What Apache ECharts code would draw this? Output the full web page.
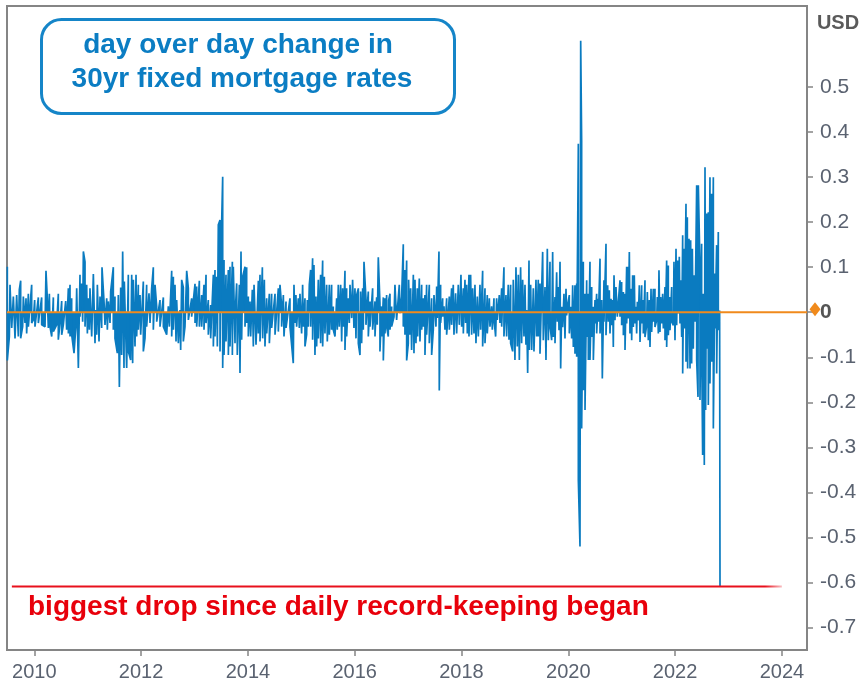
<!DOCTYPE html>
<html>
<head>
<meta charset="utf-8">
<script src="https://cdn.jsdelivr.net/npm/echarts@6/dist/echarts.min.js"></script>
<style>
html,body{margin:0;padding:0;background:#fff;}
#c{width:866px;height:689px;}
</style>
</head>
<body>
<div id="c"></div>
<script>
// Day-over-day change in 30yr fixed mortgage rate (USD / percentage points).
// Upward spikes: dates (decimal years) and values
const upYear = [
2009.495,2009.545,2009.608,2009.670,2009.720,2009.745,2009.795,2009.845,2009.889,2009.951,
2010.007,2010.076,2010.138,2010.219,2010.244,2010.282,2010.357,2010.450,2010.513,2010.588,
2010.638,2010.669,2010.700,2010.794,2010.856,2010.887,2010.919,2010.950,2010.981,2011.012,
2011.043,2011.106,2011.150,2011.181,2011.231,2011.268,2011.306,2011.356,2011.387,2011.430,
2011.480,2011.511,2011.574,2011.618,2011.655,2011.686,2011.717,2011.761,2011.824,2011.855,
2011.905,2011.948,2011.980,2012.042,2012.104,2012.148,2012.198,2012.229,2012.261,2012.292,
2012.354,2012.417,2012.510,2012.573,2012.604,2012.635,2012.666,2012.729,2012.760,2012.791,
2012.854,2012.885,2012.947,2013.010,2013.041,2013.091,2013.134,2013.178,2013.216,2013.259,
2013.303,2013.353,2013.384,2013.415,2013.446,2013.478,2013.509,2013.528,2013.553,2013.590,
2013.634,2013.665,2013.709,2013.727,2013.765,2013.790,2013.840,2013.871,2013.902,2013.946,
2013.977,2014.008,2014.040,2014.083,2014.115,2014.152,2014.196,2014.227,2014.271,2014.308,
2014.352,2014.402,2014.445,2014.508,2014.570,2014.601,2014.632,2014.664,2014.714,
2014.788,2014.863,2014.900,2014.944,2014.975,2015.025,2015.069,2015.113,2015.150,2015.175,
2015.212,2015.237,2015.275,2015.319,2015.362,2015.400,2015.431,2015.475,2015.525,2015.568,
2015.599,2015.662,2015.693,2015.737,2015.774,2015.818,2015.849,2015.880,2015.912,2015.961,
2016.005,2016.036,2016.068,2016.111,2016.149,2016.174,2016.211,2016.255,2016.286,2016.336,
2016.380,2016.411,2016.442,2016.473,2016.505,2016.536,2016.567,2016.598,2016.636,2016.661,
2016.692,2016.754,2016.785,2016.835,2016.879,2016.910,2016.941,2016.973,2017.010,2017.048,
2017.098,2017.129,2017.172,2017.210,2017.254,2017.285,2017.316,2017.347,2017.397,2017.441,
2017.485,2017.535,2017.578,2017.609,2017.647,2017.672,2017.722,2017.772,2017.815,2017.846,
2017.890,2017.940,2017.990,2018.034,2018.065,2018.096,2018.140,2018.171,2018.209,2018.252,
2018.296,2018.346,2018.396,2018.440,2018.483,2018.521,2018.564,2018.608,2018.658,2018.708,
2018.752,2018.795,2018.833,2018.876,2018.920,2018.970,2019.020,2019.064,2019.107,2019.145,
2019.189,2019.220,2019.264,2019.295,2019.345,2019.395,2019.438,
2019.470,2019.520,2019.564,2019.607,2019.657,2019.707,2019.751,2019.782,2019.813,2019.845,
2019.876,2019.919,2019.957,2019.982,2020.019,2020.044,2020.082,2020.125,2020.157,2020.188,
2020.232,2020.250,2020.281,2020.313,2020.344,2020.375,2020.406,2020.438,2020.469,2020.500,
2020.531,2020.562,2020.594,2020.625,2020.668,2020.706,2020.737,2020.768,2020.800,2020.831,
2020.856,2020.893,2020.937,2020.968,2020.999,2021.031,2021.062,2021.093,2021.124,2021.143,
2021.174,2021.205,2021.236,2021.268,2021.293,2021.330,2021.374,2021.405,2021.436,2021.480,
2021.517,2021.549,2021.592,2021.623,2021.667,2021.698,2021.730,2021.767,2021.811,2021.842,
2021.873,2021.904,2021.936,2021.979,2022.017,2022.048,2022.079,2022.104,2022.142,2022.167,
2022.204,2022.229,2022.260,2022.291,2022.323,2022.354,2022.373,2022.404,2022.435,2022.466,
2022.497,2022.529,2022.560,2022.591,2022.622,2022.653,2022.685,2022.716,2022.747,2022.778,
2022.809,2022.834
];
const upVal = [
0.101,0.061,0.035,0.038,0.050,0.070,0.035,0.031,0.041,0.061,
0.027,0.033,0.033,0.092,0.031,0.041,0.033,0.041,0.025,0.025,
0.053,0.061,0.031,0.053,0.083,0.064,0.135,0.112,0.061,0.031,
0.053,0.085,0.005,0.061,0.035,0.100,0.024,0.031,0.024,0.046,
0.100,0.035,0.038,0.055,0.135,0.068,0.072,0.083,0.083,0.072,
0.083,0.061,0.038,0.068,0.061,0.042,0.053,0.100,0.061,0.013,
0.027,0.033,0.013,0.092,0.079,0.061,0.027,0.005,0.072,0.055,
0.092,0.053,0.031,0.063,0.057,0.070,0.038,0.061,0.083,0.027,
0.016,0.083,0.094,0.079,0.194,0.205,0.201,0.301,0.116,0.083,
0.094,0.101,0.112,0.101,0.005,0.064,0.061,0.135,0.079,0.101,
0.100,0.035,0.024,0.050,0.061,0.061,0.070,0.083,0.100,0.072,
0.031,0.041,0.041,0.041,0.053,0.061,0.013,0.038,0.024,
0.031,0.061,0.038,0.031,0.041,0.061,0.031,0.027,0.061,0.094,
0.120,0.105,0.035,0.072,0.083,0.115,0.079,0.061,0.061,0.061,
0.013,0.031,0.061,0.061,0.053,0.092,0.053,0.031,0.061,0.072,
0.053,0.038,0.053,0.046,0.053,0.112,0.031,0.046,0.024,0.053,
0.024,0.033,0.122,0.020,0.013,0.033,0.031,0.038,0.027,0.041,
0.013,0.061,0.061,0.061,0.035,0.151,0.094,0.115,0.072,0.053,
0.083,0.072,0.053,0.075,0.061,0.031,0.038,0.061,0.061,0.031,
0.038,0.057,0.135,0.061,0.031,0.013,0.031,0.035,0.053,0.061,
0.042,0.061,0.083,0.053,0.072,0.061,0.083,0.083,0.053,0.061,
0.035,0.061,0.092,0.053,0.038,0.031,0.013,0.031,0.031,0.038,
0.053,0.100,0.038,0.061,0.061,0.072,0.100,0.083,0.100,0.072,
0.061,0.005,0.115,0.061,0.053,0.072,0.072,
0.064,0.134,0.056,0.141,0.112,0.134,0.034,0.089,0.056,0.112,
0.012,0.041,0.052,0.012,0.038,0.012,0.060,0.060,0.064,0.374,
0.603,0.381,0.112,0.041,0.071,0.041,0.112,0.056,0.012,0.027,
0.041,0.030,0.119,0.027,0.071,0.152,0.060,0.049,0.030,0.027,
0.082,0.056,0.023,0.071,0.067,0.045,0.041,0.101,0.101,0.134,
0.052,0.082,0.082,0.012,0.023,0.060,0.060,0.027,0.071,0.045,
0.027,0.052,0.052,0.052,0.034,0.093,0.034,0.041,0.056,0.115,
0.104,0.034,0.056,0.112,0.141,0.115,0.123,0.071,0.171,0.141,
0.241,0.211,0.163,0.160,0.141,0.082,0.012,0.282,0.282,0.101,
0.152,0.041,0.322,0.219,0.222,0.300,0.263,0.300,0.086,0.149,
0.178,0.004
];
// Downward spikes: dates (decimal years) and values
const downYear = [
2009.495,2009.533,2009.577,2009.639,2009.701,2009.745,2009.782,2009.826,2009.857,2009.889,
2009.951,2009.982,2010.013,2010.076,2010.138,2010.201,2010.263,2010.294,2010.326,2010.357,
2010.419,2010.450,2010.482,2010.513,2010.544,2010.606,2010.638,2010.669,2010.700,2010.744,
2010.781,2010.825,2010.856,2010.906,2010.950,2010.994,2011.031,2011.075,2011.137,2011.168,
2011.212,2011.262,2011.324,2011.368,2011.418,2011.480,2011.511,2011.555,2011.593,2011.636,
2011.680,2011.730,2011.761,2011.805,2011.842,2011.886,2011.917,2011.948,2011.992,2012.042,
2012.073,2012.104,2012.167,2012.229,2012.292,2012.354,2012.417,2012.479,2012.529,2012.573,
2012.604,2012.654,2012.698,2012.741,2012.791,2012.822,2012.885,2012.947,2013.010,2013.041,
2013.091,2013.134,2013.178,2013.216,2013.259,2013.303,2013.353,2013.384,2013.428,2013.478,
2013.528,2013.553,2013.590,2013.634,2013.665,2013.709,2013.759,2013.802,2013.852,2013.883,
2013.946,2013.977,2014.008,2014.052,2014.102,2014.152,2014.196,2014.227,2014.277,2014.320,
2014.352,2014.402,2014.445,2014.508,2014.570,2014.632,2014.676,2014.714,
2014.788,2014.850,2014.882,2014.913,2014.963,2015.006,2015.038,2015.069,2015.100,2015.131,
2015.175,2015.212,2015.256,2015.287,2015.319,2015.362,2015.400,2015.443,2015.487,2015.525,
2015.568,2015.599,2015.631,2015.674,2015.712,2015.756,2015.787,2015.818,2015.849,2015.899,
2015.943,2015.986,2016.024,2016.068,2016.099,2016.130,2016.161,2016.211,2016.255,2016.286,
2016.336,2016.380,2016.423,2016.473,2016.505,2016.536,2016.567,2016.598,2016.629,2016.661,
2016.692,2016.736,2016.785,2016.848,2016.910,2016.941,2016.973,2017.004,2017.035,2017.066,
2017.110,2017.147,2017.179,2017.222,2017.254,2017.285,2017.316,2017.347,2017.397,2017.441,
2017.472,2017.522,2017.547,2017.584,2017.609,2017.647,2017.691,2017.722,2017.772,2017.815,
2017.859,2017.909,2017.959,2018.003,2018.034,2018.078,2018.109,2018.140,2018.190,2018.234,
2018.271,2018.315,2018.358,2018.396,2018.440,2018.483,2018.533,2018.577,2018.608,2018.639,
2018.670,2018.720,2018.752,2018.795,2018.845,2018.889,2018.920,2018.958,2019.001,2019.045,
2019.083,2019.126,2019.170,2019.207,2019.239,2019.270,2019.314,2019.357,2019.407,2019.438,
2019.470,2019.532,2019.582,2019.626,2019.657,2019.688,2019.720,2019.751,2019.795,2019.826,
2019.857,2019.894,2019.938,2019.969,2020.019,2020.063,2020.094,2020.125,2020.157,2020.188,
2020.219,2020.250,2020.281,2020.313,2020.344,2020.375,2020.406,2020.438,2020.469,2020.500,
2020.531,2020.562,2020.594,2020.637,2020.668,2020.706,2020.750,2020.781,2020.812,2020.843,
2020.874,2020.918,2020.968,2020.999,2021.031,2021.062,2021.093,2021.124,2021.155,2021.187,
2021.218,2021.249,2021.280,2021.311,2021.343,2021.374,2021.405,2021.436,2021.467,2021.499,
2021.530,2021.561,2021.592,2021.623,2021.655,2021.686,2021.717,2021.748,2021.780,2021.811,
2021.842,2021.873,2021.904,2021.936,2021.967,2021.998,2022.029,2022.060,2022.092,2022.123,
2022.142,2022.173,2022.204,2022.235,2022.279,2022.310,2022.341,2022.373,2022.404,2022.429,
2022.466,2022.497,2022.516,2022.547,2022.572,2022.603,2022.622,2022.653,2022.685,2022.716,
2022.747,2022.778,2022.809,2022.841
];
const downVal = [
-0.107,-0.054,-0.035,-0.058,-0.054,-0.058,-0.032,-0.024,-0.047,-0.032,
-0.024,-0.017,-0.032,-0.024,-0.028,-0.032,-0.035,-0.032,-0.054,-0.043,
-0.028,-0.061,-0.024,-0.050,-0.028,-0.039,-0.047,-0.054,-0.050,-0.091,
-0.028,-0.124,-0.010,-0.021,-0.032,-0.047,-0.039,-0.054,-0.069,-0.050,
-0.065,-0.035,-0.028,-0.039,-0.024,-0.039,-0.058,-0.091,-0.166,-0.095,
-0.124,-0.124,-0.087,-0.106,-0.113,-0.076,-0.054,-0.039,-0.050,-0.087,
-0.058,-0.032,-0.024,-0.039,-0.021,-0.032,-0.032,-0.050,-0.032,-0.054,
-0.039,-0.065,-0.069,-0.084,-0.065,-0.032,-0.017,-0.010,-0.024,-0.032,
-0.032,-0.032,-0.039,-0.024,-0.050,-0.058,-0.076,-0.054,-0.076,-0.087,
-0.124,-0.095,-0.065,-0.095,-0.076,-0.095,-0.069,-0.095,-0.135,-0.061,
-0.032,-0.024,-0.054,-0.054,-0.076,-0.072,-0.047,-0.065,-0.058,-0.076,
-0.047,-0.069,-0.035,-0.050,-0.043,-0.032,-0.054,-0.035,
-0.032,-0.113,-0.024,-0.032,-0.035,-0.047,-0.032,-0.076,-0.050,-0.032,
-0.032,-0.061,-0.095,-0.076,-0.058,-0.069,-0.076,-0.047,-0.065,-0.050,
-0.039,-0.039,-0.054,-0.039,-0.032,-0.065,-0.032,-0.084,-0.054,-0.024,
-0.013,-0.035,-0.058,-0.069,-0.095,-0.069,-0.039,-0.028,-0.054,-0.032,
-0.039,-0.054,-0.028,-0.087,-0.054,-0.107,-0.047,-0.032,-0.054,-0.039,
-0.032,-0.010,-0.017,-0.002,-0.032,-0.050,-0.107,-0.069,-0.050,-0.084,
-0.091,-0.069,-0.054,-0.065,-0.039,-0.032,-0.095,-0.050,-0.069,-0.095,
-0.039,-0.032,-0.013,-0.174,-0.024,-0.010,-0.039,-0.050,-0.039,-0.028,
-0.050,-0.047,-0.028,-0.032,-0.047,-0.024,-0.047,-0.054,-0.050,-0.047,
-0.069,-0.054,-0.039,-0.076,-0.069,-0.047,-0.032,-0.039,-0.013,-0.054,
-0.017,-0.024,-0.032,-0.054,-0.054,-0.061,-0.069,-0.087,-0.106,-0.076,
-0.106,-0.069,-0.054,-0.072,-0.135,-0.084,-0.084,-0.087,-0.054,-0.054,
-0.092,-0.062,-0.106,-0.062,-0.029,-0.062,-0.055,-0.069,-0.021,-0.040,
-0.125,-0.033,-0.058,-0.007,-0.047,-0.058,-0.077,-0.092,-0.099,-0.373,
-0.520,-0.258,-0.173,-0.217,-0.055,-0.106,-0.106,-0.055,-0.106,-0.025,
-0.047,-0.021,-0.047,-0.147,-0.021,-0.051,-0.021,-0.047,-0.029,-0.077,
-0.018,-0.010,-0.010,-0.029,-0.051,-0.084,-0.025,-0.014,-0.047,-0.062,
-0.033,-0.025,-0.047,-0.018,-0.066,-0.025,-0.047,-0.055,-0.029,-0.062,
-0.077,-0.044,-0.021,-0.033,-0.018,-0.047,-0.044,-0.025,-0.036,-0.062,
-0.077,-0.051,-0.040,-0.021,-0.029,-0.062,-0.029,-0.003,-0.025,-0.055,
-0.136,-0.036,-0.110,-0.125,-0.125,-0.114,-0.081,-0.021,-0.106,-0.188,
-0.195,-0.066,-0.317,-0.339,-0.217,-0.081,-0.206,-0.158,-0.110,-0.258,
-0.036,-0.136,-0.040,-0.609
];
const xTicks = [2010, 2012, 2014, 2016, 2018, 2020, 2022, 2024];
const yTicks = [-0.7, -0.6, -0.5, -0.4, -0.3, -0.2, -0.1, 0, 0.1, 0.2, 0.3, 0.4, 0.5];
const xMin = 2009.489, xMax = 2024.47;
const yMin = -0.75, yMax = 0.68;

// merge up/down readings into one date-ordered series
const pts = [];
upYear.forEach((t, i) => pts.push([t, upVal[i], 0]));
downYear.forEach((t, i) => pts.push([t, downVal[i], 1]));
pts.sort((a, b) => (a[0] - b[0]) || (a[2] - b[2]));
const series = pts.map(p => [p[0], p[1]]);
const biggestDrop = Math.min.apply(null, downVal);

const FONT = "'Liberation Sans', Arial, sans-serif";
const LABEL = '#5a6270';
const BLUE = '#0a7bc0';

const chart = echarts.init(document.getElementById('c'), null, {renderer: 'canvas'});
chart.setOption({
  animation: false,
  backgroundColor: '#fff',
  grid: {left: 7, right: 59, top: 6, bottom: 39, containLabel: false,
         show: true, borderColor: '#858585', borderWidth: 2, backgroundColor: 'transparent'},
  xAxis: {
    type: 'value', min: xMin, max: xMax,
    axisLine: {show: true, onZero: false, lineStyle: {color: '#858585', width: 2}},
    axisTick: {show: true, length: 6, lineStyle: {color: '#858585', width: 1.5}, customValues: xTicks},
    axisLabel: {customValues: xTicks, color: LABEL, fontSize: 20, fontFamily: FONT, margin: 12,
                formatter: v => String(Math.round(v))},
    splitLine: {show: false}
  },
  yAxis: {
    type: 'value', position: 'right', min: yMin, max: yMax,
    axisLine: {show: true, onZero: false, lineStyle: {color: '#858585', width: 2}},
    axisTick: {show: true, length: 6, lineStyle: {color: '#858585', width: 1.5}, customValues: yTicks},
    axisLabel: {customValues: yTicks, color: LABEL, fontSize: 21, fontFamily: FONT, margin: 13,
                formatter: v => (Math.abs(v) < 1e-9 ? '{z|0}' : String(Math.round(v * 10) / 10)),
                rich: {z: {fontWeight: 'bold', color: '#555', fontSize: 21, fontFamily: FONT}}},
    splitLine: {show: false}
  },
  series: [
    {
      type: 'line', data: series, showSymbol: false, symbol: 'none',
      lineStyle: {color: BLUE, width: 1.7},
      areaStyle: {color: BLUE, opacity: 1, origin: 0},
      z: 2
    },
    {
      type: 'line', data: [[2009.58, biggestDrop], [2024.0, biggestDrop]], symbol: 'none',
      lineStyle: {width: 2, color: {type: 'linear', x: 0, y: 0, x2: 1, y2: 0,
        colorStops: [{offset: 0, color: '#e8101c'}, {offset: 0.975, color: '#e8101c'}, {offset: 1, color: 'rgba(232,16,28,0.15)'}]}},
      z: 3
    },
    {
      type: 'line', clip: false,
      data: [
        {value: [xMin, 0], symbol: 'none'},
        {value: [xMax, 0], symbol: 'diamond', symbolSize: [11, 14], symbolOffset: [8, -3]}
      ],
      showSymbol: true,
      itemStyle: {color: '#f08a1c'},
      lineStyle: {color: '#f08a1c', width: 2},
      z: 4
    }
  ],
  graphic: [
    {type: 'rect', left: 40, top: 18, shape: {width: 413, height: 94, r: 20},
     style: {fill: '#fff', stroke: '#1585c8', lineWidth: 3}, z: 10},
    {type: 'text', x: 238, y: 45, z: 11,
     style: {text: 'day over day change in', fill: '#0b7dc3', font: "bold 28px 'Liberation Sans', Arial, sans-serif",
             textAlign: 'center', textVerticalAlign: 'middle'}},
    {type: 'text', x: 242, y: 79, z: 11,
     style: {text: '30yr fixed mortgage rates', fill: '#0b7dc3', font: "bold 28px 'Liberation Sans', Arial, sans-serif",
             textAlign: 'center', textVerticalAlign: 'middle'}},
    {type: 'text', x: 838, y: 23, z: 11,
     style: {text: 'USD', fill: '#5a5a5a', font: "bold 20px 'Liberation Sans', Arial, sans-serif",
             textAlign: 'center', textVerticalAlign: 'middle'}},
    {type: 'text', x: 28, y: 607, z: 11,
     style: {text: 'biggest drop since daily record-keeping began', fill: '#e8000b',
             font: "bold 28px 'Liberation Sans', Arial, sans-serif", textAlign: 'left', textVerticalAlign: 'middle'}}
  ]
});
</script>
</body>
</html>
